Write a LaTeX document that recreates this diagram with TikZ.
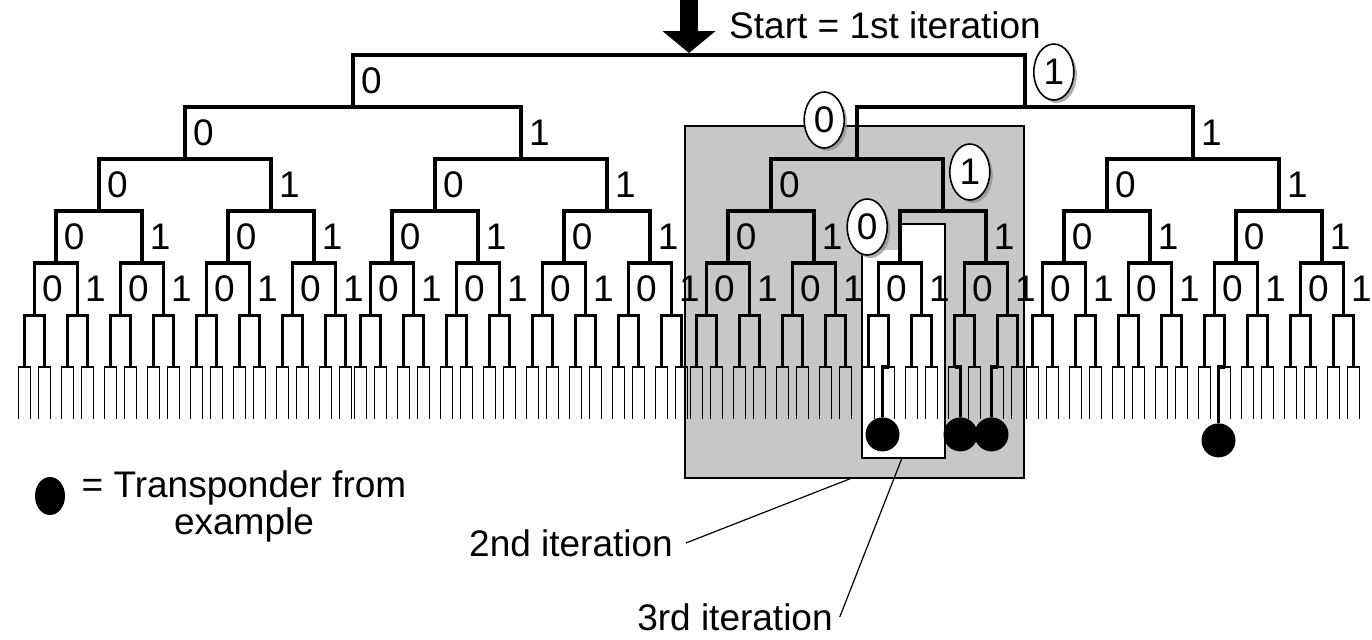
\documentclass[tikz,border=0pt]{standalone}
\usepackage{fontspec}
\setmainfont{Liberation Sans}
\usetikzlibrary{arrows.meta, positioning, shapes.geometric, shadows}

\tikzset{
  bit/.style={anchor=west, inner sep=1pt, pos=0.75, xshift=2pt},
  pick/.style={ellipse, draw, line width=0.8pt, fill=white, inner sep=0pt,
    minimum width=20pt, minimum height=28pt,
    drop shadow={shadow xshift=1.5pt, shadow yshift=-1.5pt, fill=black!45, opacity=.7}},
  hl1/.style={pick, xshift=2pt, yshift=4.5pt},
  hl10/.style={pick, anchor=east, xshift=-8pt, yshift=6.5pt},
  hl101/.style={pick, xshift=1pt, yshift=6.5pt},
  hl1010/.style={pick, anchor=east, xshift=-8pt, yshift=5pt},
  tag/.style={circle, fill=black, minimum size=17pt, inner sep=0pt},
  stem/.style={line width=1.6pt},
  ptr/.style={line width=0.6pt},
  iterbox/.style={draw, line width=0.7pt, inner sep=0pt},
  startarrow/.style={line width=9pt, -{Triangle[width=26pt, length=11pt]}, shorten >=1pt}
}

\begin{document}
\begin{tikzpicture}[x=0.5pt, y=-0.5pt, font=\fontsize{18.5}{18.5}\selectfont,
    grow=down, level distance=26pt,
    edge from parent path={(\tikzparentnode) -| (\tikzchildnode)},
    level 1/.style={sibling distance=336pt, line width=2pt},
    level 2/.style={sibling distance=168pt},
    level 3/.style={sibling distance=86pt},
    level 4/.style={sibling distance=43pt},
    level 5/.style={sibling distance=21.5pt, line width=1.8pt},
    level 6/.style={sibling distance=10pt, line width=1.5pt},
    level 7/.style={sibling distance=6pt, line width=0.7pt}]
\useasboundingbox (0,0) rectangle (1372,639);

% 2nd iteration (grey) and 3rd iteration (white)
\node[iterbox, fill=black!22, minimum width=169.5pt, minimum height=176pt] (box2) at (854.5,302) {};
\fill[white] (902,224) -- (945,224) -- (945,458) -- (862,458) -- (862,250) -- (902,250) -- cycle;
\draw[line width=0.7pt] (862,250) -- (862,458) -- (945,458) -- (945,224) -- (902,224);

% search tree
\coordinate (root) at (689,55)
  child foreach \a in {0,1} {
    child foreach \b in {0,1} {
      child foreach \c in {0,1} {
        child foreach \d in {0,1} {
          child foreach \e in {0,1} {
            child foreach \f in {0,1} {
              child foreach \g in {0,1} {}
            }
            edge from parent node[bit, hl\a\b\c\d\e/.try] {\e}
          }
          edge from parent node[bit, hl\a\b\c\d/.try] {\d}
        }
        edge from parent node[bit, hl\a\b\c/.try] {\c}
      }
      edge from parent node[bit, hl\a\b/.try] {\b}
    }
    edge from parent node[bit, hl\a/.try] {\a}
  };

\coordinate (in) at (689,0);
\draw[startarrow] (in) -- (root);
\node (start) at (885,25) {Start = 1st iteration};

% transponders
\node[tag, below=-1pt of root-2-1-2-1-1-2-1] (tg1) {};
\node[tag, below=-1pt of root-2-1-2-2-1-1-2] (tg2) {};
\node[tag, below=-1pt of root-2-1-2-2-2-1-1] (tg3) {};
\node[tag, below=2pt of root-2-2-2-1-1-2-1] (tg4) {};
\draw[stem] (root-2-1-2-1-1-2) -| (tg1);
\draw[stem] (root-2-1-2-2-1-1) -| (tg2);
\draw[stem] (root-2-1-2-2-2-1) -| (tg3);
\draw[stem] (root-2-2-2-1-1-2) -| (tg4);

% legend
\node[tag, minimum width=15pt, minimum height=19pt, ellipse] (leg) at (50,496) {};
\node[align=center] (legtxt) at (244,506) {= Transponder from\\example};

% iteration labels
\node (it2) at (571,543) {2nd iteration};
\node (it3) at (735,617) {3rd iteration};
\coordinate (p2) at (852,478);
\coordinate (p3) at (902,458);
\draw[ptr] ([xshift=3pt]it2.east) -- (p2);
\draw[ptr] (it3.east) -- (p3);
\end{tikzpicture}
\end{document}
